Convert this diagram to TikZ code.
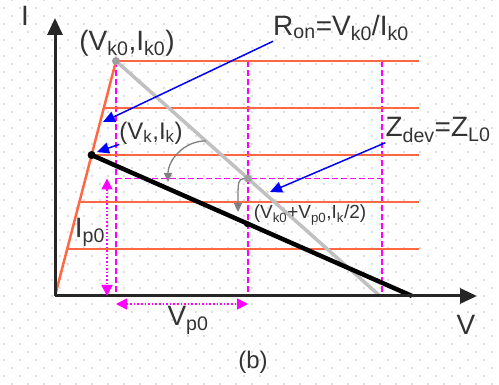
\documentclass[tikz,border=0pt]{standalone}
\usepackage{fontspec}
\setmainfont{Liberation Sans}
\usetikzlibrary{arrows.meta,calc}

\definecolor{ivorange}{RGB}{255,104,66}
\definecolor{loadgray}{RGB}{192,192,192}
\definecolor{gridgray}{RGB}{190,190,190}
\definecolor{boxpink}{RGB}{255,0,255}

\begin{document}
\begin{tikzpicture}[
  x=1pt, y=-1pt,
  axis/.style={
    line width=3pt, black!85,
    -{Triangle[length=17pt,width=15pt]}
  },
  ivcurve/.style={line width=2.5pt, ivorange},
  box/.style={
    boxpink, line width=1.8pt,
    dash pattern=on 6pt off 3pt
  },
  loadold/.style={line width=3.5pt, loadgray},
  loadnew/.style={line width=4.5pt, black},
  vdot/.style={circle, fill=#1, inner sep=0pt, minimum size=8pt},
  note/.style={blue, line width=1.5pt, -{Triangle[length=12pt,width=11pt]}},
  turn/.style={gray, line width=1.3pt, -{Triangle[length=9pt,width=8pt]}},
  span/.style={
    boxpink, dotted, line width=1.6pt,
    {Triangle[length=11pt,width=11pt]}-{Triangle[length=11pt,width=11pt]}
  },
  lbl/.style={
    font=\fontsize{28}{30}\selectfont, text=black!80,
    inner sep=0pt, align=center
  },
  lblsmall/.style={lbl, font=\fontsize{19}{21}\selectfont},
  lblmid/.style={lbl, font=\fontsize{24}{26}\selectfont},
]

\useasboundingbox (0,0) rectangle (499,385);

\foreach \r in {0,...,24}
  \foreach \c in {0,...,31} {
    \fill[gridgray] (12+16*\c, 16*\r) circle (0.8pt);
    \fill[gridgray] (4+16*\c, 8+16*\r) circle (0.8pt);
  }

\coordinate (O)    at (55,296);
\coordinate (Itip) at (55,18);
\coordinate (Vtip) at (477,296);
\coordinate (K0)   at (116,61);
\coordinate (Rend) at (419,0);
\coordinate (Xr)   at (382,0);
\coordinate (Gend) at (380,296);
\coordinate (L)    at (412,296);
\coordinate (K)    at ($(O)!0.6!(K0)$);
\coordinate (G)    at ($(K0)!0.5!(Gend)$);
\coordinate (M)    at (247,224);
\coordinate (ip)   at (107,0);
\coordinate (vp)   at (0,304);

\draw[box] (K0) -- (K0 |- O);
\draw[box] (G |- K0) -- (G |- O);
\draw[box] (Xr |- K0) -- (Xr |- O);
\draw[box] (K0) -- (Xr |- K0);
\draw[box] (K0 |- G) -- (Xr |- G);

\draw[ivcurve] (O) -- (K0);
\foreach \t in {0.2,0.4,0.6,0.8,1}
  \draw[ivcurve] ($(O)!\t!(K0)$) coordinate (c) -- (c -| Rend);

\draw[loadold] (K0) -- (Gend);
\draw[loadnew] (K) -- (L);

\draw[axis] (O) -- (Itip);
\draw[axis] (O) -- (Vtip);

\node[vdot=gray!75]  (k0dot) at (K0) {};
\node[vdot=gray!75]  (gdot)  at (G)  {};
\node[vdot=black]    (kdot)  at (K)  {};
\node[vdot=black, minimum size=6pt] (mdot) at (M) {};

\node[lbl]      (ilbl)  at (25,16)   {I};
\node[lbl]      (vlbl)  at (466,325) {V};
\node[lbl]      (k0lbl) at (127,43)  {(V\textsubscript{k0},I\textsubscript{k0})};
\node[lbl]      (ron)   at (341,28)  {R\textsubscript{on}=V\textsubscript{k0}/I\textsubscript{k0}};
\node[lblmid]   (klbl)  at (151,133) {(V\textsubscript{k},I\textsubscript{k})};
\node[lbl]      (zdev)  at (438,130) {Z\textsubscript{dev}=Z\textsubscript{L0}};
\node[lblsmall] (mlbl)  at (310,215) {(V\textsubscript{k0}+V\textsubscript{p0},I\textsubscript{k}/2)};
\node[lbl]      (iplbl) at (90,232)  {I\textsubscript{p0}};
\node[lbl]      (vplbl) at (188,320) {V\textsubscript{p0}};
\node[lblmid]   (cap)   at (253,362) {(b)};

\draw[note] (ron.south west) -- (103,122);
\draw[note] (klbl.south west) -- (97,152);
\draw[note] (zdev.south west) -- (270,192);

\draw[turn] ($(K0)!0.34!(Gend)$) to[out=180,in=90] (168,182);
\draw[turn] ([xshift=-4pt]G) .. controls (238,180) .. (238,212);

\draw[span] (ip |- G) -- (ip |- O);
\draw[span] (vp -| K0) -- (vp -| G);

\end{tikzpicture}
\end{document}
